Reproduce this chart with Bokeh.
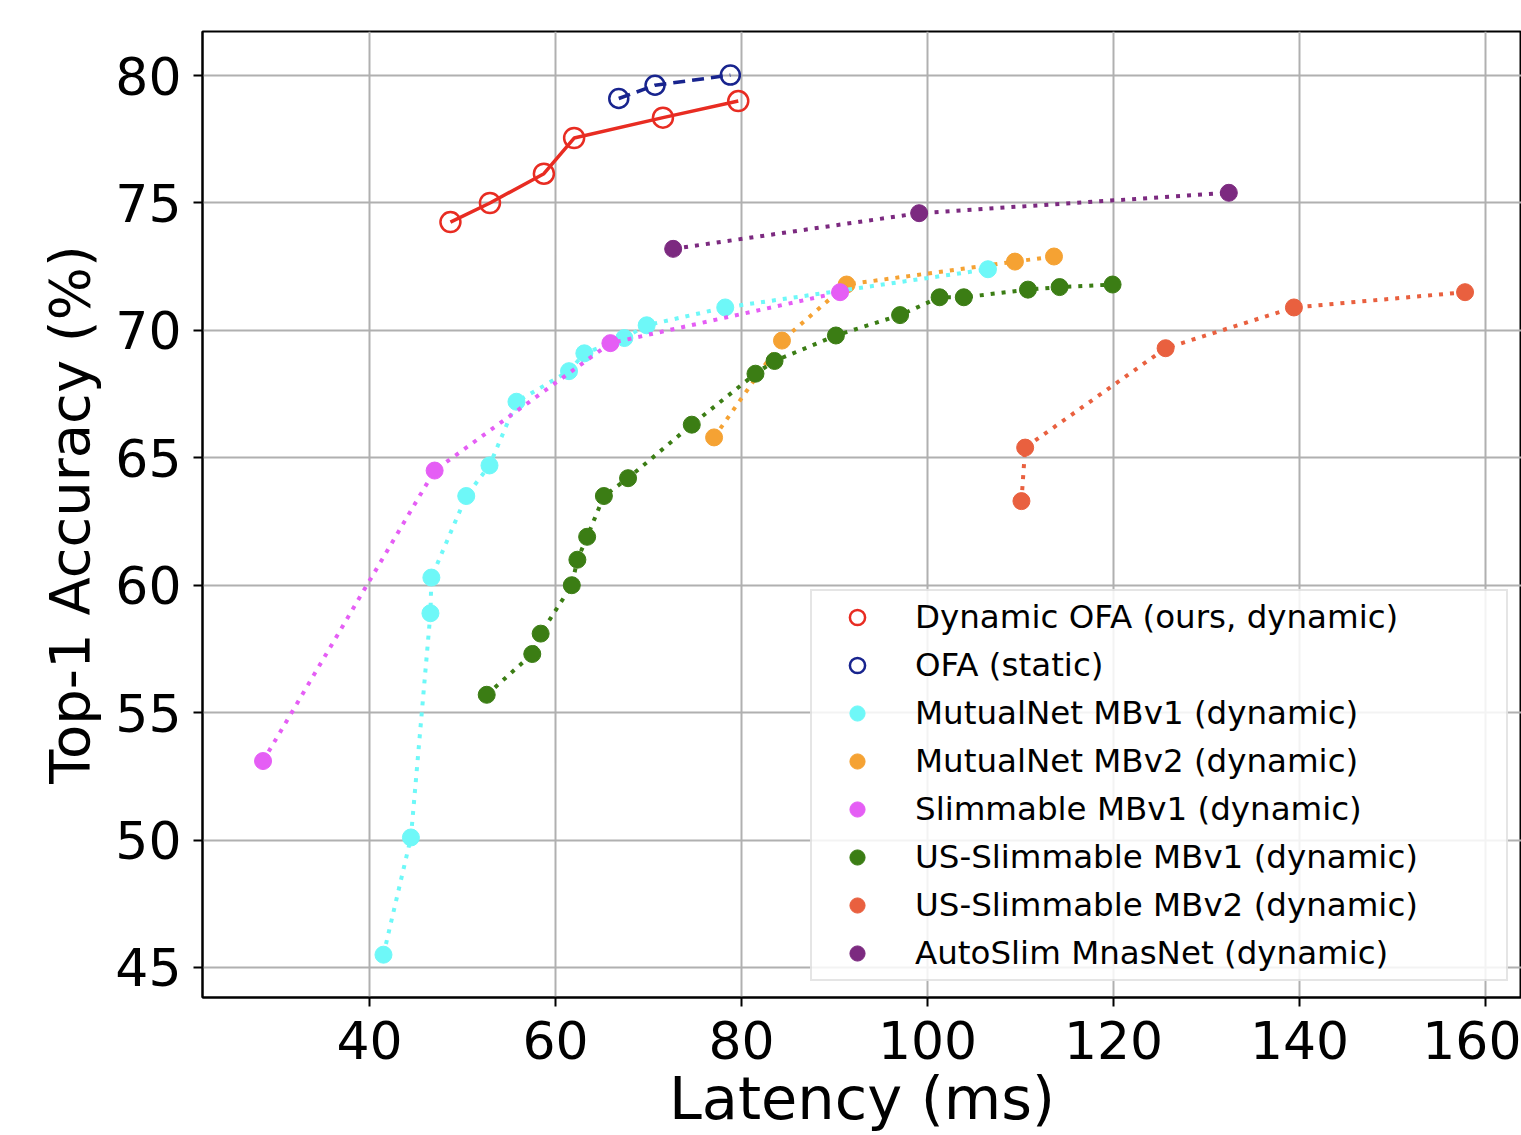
from bokeh.plotting import figure
from bokeh.models import Range1d, FixedTicker, Legend, LegendItem
from bokeh.embed import file_html
from bokeh.resources import INLINE

# ---- data ----
dofa_x = [48.7, 52.95, 58.75, 62.0, 71.55, 79.65]
dofa_y = [74.25, 75.0, 76.15, 77.55, 78.35, 79.0]
ofa_x = [66.8, 70.7, 78.8]
ofa_y = [79.1, 79.62, 80.02]
mn1_x = [41.5, 44.45, 46.55, 46.65, 50.4, 52.9, 55.8, 61.45, 63.1, 67.4, 69.8, 78.25, 106.5]
mn1_y = [45.5, 50.1, 58.9, 60.3, 63.5, 64.7, 67.2, 68.4, 69.1, 69.7, 70.2, 70.9, 72.4]
mn2_x = [77.05, 84.35, 91.3, 109.4, 113.6]
mn2_y = [65.8, 69.6, 71.8, 72.7, 72.9]
sl1_x = [28.55, 47.0, 65.9, 90.6]
sl1_y = [53.1, 64.5, 69.5, 71.5]
us1_x = [52.6, 57.5, 58.4, 61.75, 62.35, 63.4, 65.2, 67.8, 74.65, 81.5, 83.55,
         90.15, 97.05, 101.3, 103.9, 110.8, 114.2, 119.9]
us1_y = [55.7, 57.3, 58.1, 60.0, 61.0, 61.9, 63.5, 64.2, 66.3, 68.3, 68.8,
         69.8, 70.6, 71.3, 71.3, 71.6, 71.7, 71.8]
us2_x = [110.1, 110.5, 125.6, 139.4, 157.8]
us2_y = [63.3, 65.4, 69.3, 70.9, 71.5]
as_x = [72.65, 99.1, 132.4]
as_y = [73.2, 74.6, 75.4]

labels = [
    "Dynamic OFA (ours, dynamic)",
    "OFA (static)",
    "MutualNet MBv1 (dynamic)",
    "MutualNet MBv2 (dynamic)",
    "Slimmable MBv1 (dynamic)",
    "US-Slimmable MBv1 (dynamic)",
    "US-Slimmable MBv2 (dynamic)",
    "AutoSlim MnasNet (dynamic)",
]
x_ticks = [40, 60, 80, 100, 120, 140, 160]
y_ticks = [45, 50, 55, 60, 65, 70, 75, 80]

colors = ["#e82c22", "#18248e", "#6ef8f8", "#f5a233", "#e55ef5", "#3b7d14", "#e9603f", "#7c2a80"]

FONT = "DejaVu Sans"

p = figure(width=1521, height=1135,
           x_range=Range1d(22.04, 163.87), y_range=Range1d(43.82, 81.73),
           output_backend="svg", toolbar_location=None,
           min_border_left=202, min_border_right=0, min_border_top=31, min_border_bottom=138,
           x_axis_label="Latency (ms)", y_axis_label="Top-1 Accuracy (%)")
p.background_fill_color = "white"
p.border_fill_color = "white"
p.outline_line_color = "black"
p.outline_line_width = 2

p.xaxis.ticker = FixedTicker(ticks=x_ticks)
p.yaxis.ticker = FixedTicker(ticks=y_ticks)
for ax in (p.xaxis[0], p.yaxis[0]):
    ax.axis_line_color = "black"
    ax.axis_line_width = 2
    ax.major_tick_line_color = "black"
    ax.major_tick_line_width = 2
    ax.major_tick_out = 9
    ax.major_tick_in = 0
    ax.minor_tick_line_color = None
    ax.major_label_text_font = FONT
    ax.major_label_text_font_size = "52px"
    ax.major_label_text_color = "black"
    ax.axis_label_text_font = FONT
    ax.axis_label_text_font_style = "normal"
    ax.axis_label_text_color = "black"
p.xaxis.major_label_standoff = 14
p.xaxis.axis_label_standoff = 2
p.xaxis.axis_label_text_font_size = "59px"
p.yaxis.major_label_standoff = 12
p.yaxis.axis_label_standoff = 10
p.yaxis.axis_label_text_font_size = "56px"

p.grid.grid_line_color = "#b0b0b0"
p.grid.grid_line_width = 2

items = []

# Dynamic OFA
p.line(dofa_x, dofa_y, line_color=colors[0], line_width=3.5)
r = p.scatter(dofa_x, dofa_y, size=20, marker="circle", fill_alpha=0,
              line_color=colors[0], line_width=2.5)
items.append(LegendItem(label=labels[0], renderers=[r]))

# OFA static
p.line(ofa_x, ofa_y, line_color=colors[1], line_width=3.5, line_dash="12 7")
r = p.scatter(ofa_x, ofa_y, size=19, marker="circle", fill_alpha=0,
              line_color=colors[1], line_width=2.5)
items.append(LegendItem(label=labels[1], renderers=[r]))

series = [
    (mn2_x, mn2_y, 3),
    (mn1_x, mn1_y, 2),
    (sl1_x, sl1_y, 4),
    (us1_x, us1_y, 5),
    (us2_x, us2_y, 6),
    (as_x, as_y, 7),
]
rmap = {}
for xs, ys, ci in series:
    p.line(xs, ys, line_color=colors[ci], line_width=4, line_dash="4 7")
    rr = p.scatter(xs, ys, size=17, marker="circle", fill_color=colors[ci],
                   line_color=colors[ci], line_width=1)
    rmap[ci] = rr
for ci in range(2, 8):
    items.append(LegendItem(label=labels[ci], renderers=[rmap[ci]]))

legend = Legend(items=items, location=(608, 16))
legend.label_text_font = FONT
legend.label_text_font_size = "32.5px"
legend.label_text_color = "black"
legend.label_height = 38
legend.glyph_height = 38
legend.glyph_width = 76
legend.label_width = 584
legend.label_standoff = 20
legend.spacing = 10
legend.padding = 7
legend.margin = 0
legend.border_line_color = "#cccccc"
legend.border_line_width = 2
legend.background_fill_color = "white"
legend.background_fill_alpha = 0.85
p.add_layout(legend, "center")

open("out.html", "w").write(file_html(p, INLINE))
